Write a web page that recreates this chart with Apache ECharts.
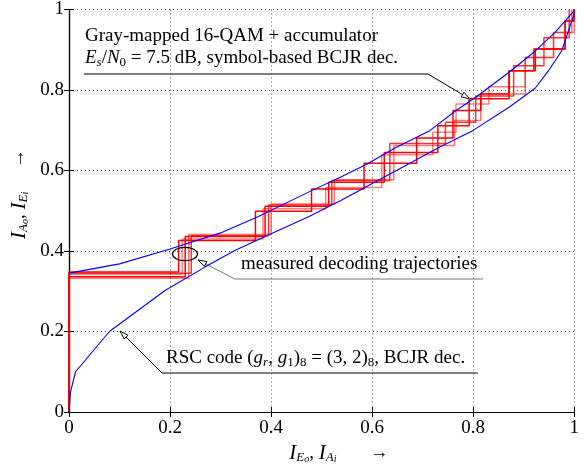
<!DOCTYPE html>
<html>
<head>
<meta charset="utf-8">
<script src="https://cdn.jsdelivr.net/npm/echarts@6/dist/echarts.min.js"></script>
<style>
  html, body { margin: 0; padding: 0; background: #fff; }
  #main { width: 582px; height: 470px; }
</style>
</head>
<body>
<div id="main"></div>
<script>
// inner demapper/accumulator curve (I_Eo -> I_Ei)
const upperX = [0, 0.1, 0.2, 0.3, 0.375, 0.48, 0.537, 0.59, 0.648, 0.714, 0.766, 0.805, 0.871, 0.923, 0.962, 1];
const upperY = [0.345, 0.368, 0.405, 0.445, 0.486, 0.55, 0.583, 0.616, 0.658, 0.699, 0.749, 0.782, 0.844, 0.897, 0.943, 0.997];
// RSC code curve, transposed
const lowerX = [0, 0.003, 0.013, 0.08, 0.19, 0.269, 0.328, 0.4, 0.472, 0.537, 0.648, 0.733, 0.799, 0.871, 0.923, 0.949, 0.975, 1];
const lowerY = [0, 0.05, 0.1, 0.2, 0.302, 0.36, 0.401, 0.443, 0.484, 0.525, 0.6, 0.658, 0.699, 0.757, 0.805, 0.848, 0.897, 0.99];
// measured trajectories: x after each horizontal step, y after each vertical step
const trajX = [
  [0.217, 0.369, 0.480, 0.584, 0.688, 0.760, 0.815, 0.871, 0.923, 0.982, 1.0],
  [0.224, 0.384, 0.508, 0.619, 0.720, 0.766, 0.831, 0.903, 0.959, 1.0],
  [0.230, 0.388, 0.514, 0.624, 0.730, 0.792, 0.871, 0.920, 0.982, 1.0],
  [0.237, 0.400, 0.525, 0.643, 0.763, 0.815, 0.903, 0.959, 0.995],
  [0.242, 0.395, 0.520, 0.635, 0.745, 0.805, 0.880, 0.940, 0.990]
];
const trajY = [
  [0.348, 0.426, 0.499, 0.554, 0.618, 0.681, 0.749, 0.790, 0.848, 0.902, 0.972, 1.0],
  [0.342, 0.430, 0.505, 0.558, 0.639, 0.695, 0.765, 0.808, 0.881, 0.943, 1.0],
  [0.336, 0.436, 0.511, 0.571, 0.645, 0.711, 0.778, 0.848, 0.902, 0.972, 1.0],
  [0.332, 0.441, 0.517, 0.577, 0.662, 0.724, 0.790, 0.881, 0.943, 1.0],
  [0.345, 0.438, 0.514, 0.575, 0.667, 0.720, 0.785, 0.860, 0.930, 1.0]
];

const serif = '"Liberation Serif", "DejaVu Serif", serif';
const trajColors = ['rgba(255,0,0,1)', 'rgba(255,0,0,0.5)', 'rgba(255,0,0,1)', 'rgba(255,0,0,0.55)', 'rgba(255,0,0,0.8)'];

function zip(xs, ys) { return xs.map((x, i) => [x, ys[i]]); }

function stairs(xs, ys) {
  let x = 0;
  const pts = [[0, 0]];
  for (let i = 0; i < ys.length; i++) {
    pts.push([x, ys[i]]);
    if (i < xs.length) { x = xs[i]; pts.push([x, ys[i]]); }
  }
  return pts;
}

const rich = {
  n: { fontFamily: serif, fontSize: 19, lineHeight: 22, fill: '#000' },
  i: { fontFamily: serif, fontSize: 19, lineHeight: 22, fontStyle: 'italic', fill: '#000' },
  I: { fontFamily: serif, fontSize: 21, lineHeight: 22, fontStyle: 'italic', fill: '#000' },
  s: { fontFamily: serif, fontSize: 13, lineHeight: 11, fontStyle: 'italic', verticalAlign: 'bottom', fill: '#000' },
  r: { fontFamily: serif, fontSize: 13, lineHeight: 11, verticalAlign: 'bottom', fill: '#000' },
  ss: { fontFamily: serif, fontSize: 10, lineHeight: 6, fontStyle: 'italic', verticalAlign: 'bottom', fill: '#000' }
};

function label(x, y, text, align, rot) {
  return {
    type: 'text', x: x, y: y, rotation: rot || 0, silent: true,
    style: { text: text, rich: rich, textAlign: align || 'left', textVerticalAlign: 'middle' }
  };
}

function line(points, color) {
  return { type: 'polyline', silent: true, shape: { points: points }, style: { stroke: color, lineWidth: 1, fill: null } };
}

function head(tip, from, color) {
  const a = Math.atan2(tip[1] - from[1], tip[0] - from[0]);
  const L = 9, w = 0.3;
  const p1 = [tip[0] - L * Math.cos(a - w), tip[1] - L * Math.sin(a - w)];
  const p2 = [tip[0] - L * Math.cos(a + w), tip[1] - L * Math.sin(a + w)];
  return { type: 'polygon', silent: true, shape: { points: [p1, tip, p2] }, style: { stroke: color, fill: '#fff', lineWidth: 1 } };
}

const axisCommon = {
  type: 'value', min: 0, max: 1, interval: 0.2,
  axisLine: { show: true, lineStyle: { color: '#000', width: 1.2 } },
  axisTick: { show: true, inside: true, length: 5, lineStyle: { color: '#000' } }
};

const series = [
  { type: 'line', data: zip(upperX, upperY), showSymbol: false, lineStyle: { color: '#0000ff', width: 1.1 }, z: 3 },
  { type: 'line', data: zip(lowerX, lowerY), showSymbol: false, lineStyle: { color: '#0000ff', width: 1.1 }, z: 3 }
];
trajX.forEach((xs, k) => {
  series.push({
    type: 'line', data: stairs(xs, trajY[k]), showSymbol: false,
    lineStyle: { color: trajColors[k], width: 1.5 }, z: 2
  });
});

const chart = echarts.init(document.getElementById('main'));
chart.setOption({
  animation: false,
  backgroundColor: '#fff',
  grid: { left: 69, right: 3, top: 8, bottom: 58 },
  xAxis: [
    Object.assign({}, axisCommon, {
      position: 'bottom',
      axisLabel: { color: '#000', fontFamily: serif, fontSize: 19, margin: 7 },
      splitLine: { show: true, lineStyle: { color: '#555', type: [1, 3], width: 1 } }
    }),
    Object.assign({}, axisCommon, { position: 'top', axisLabel: { show: false }, splitLine: { show: false } })
  ],
  yAxis: [
    Object.assign({}, axisCommon, {
      position: 'left',
      axisLabel: { color: '#000', fontFamily: serif, fontSize: 19, margin: 5 },
      splitLine: { show: true, lineStyle: { color: '#555', type: [1, 3], width: 1 } }
    }),
    Object.assign({}, axisCommon, { position: 'right', axisLabel: { show: false }, splitLine: { show: false } })
  ],
  series: series,
  graphic: [
    // annotation: inner curve
    label(85, 36, '{n|Gray-mapped 16-QAM + accumulator}'),
    label(85, 58, '{i|E}{s|s}{n|/}{i|N}{r|0}{n| = 7.5 dB, symbol-based BCJR dec.}'),
    line([[84, 74], [428, 74], [470, 99]], '#000'),
    head([470, 99], [428, 74], '#000'),
    // annotation: trajectories
    { type: 'ellipse', silent: true, shape: { cx: 185, cy: 254, rx: 12.5, ry: 6.7 }, style: { stroke: '#000', fill: null, lineWidth: 1.2 }, z: 10 },
    label(241, 264, '{n|measured decoding trajectories}'),
    line([[198, 260], [235, 279], [483, 279]], '#777'),
    head([198, 260], [235, 279], '#000'),
    // annotation: RSC curve
    label(166, 358, '{n|RSC code (}{i|g}{s|r}{n|, }{i|g}{r|1}{n|)}{r|8}{n| = (3, 2)}{r|8}{n|, BCJR dec.}'),
    line([[120, 331], [162, 373], [478, 373]], '#000'),
    head([120, 331], [162, 373], '#000'),
    // axis names
    label(339, 453, '{I|I}{s|E}{ss|o}{n|, }{I|I}{s|A}{ss|i}{n|       →}', 'center'),
    label(19, 194, '{I|I}{s|A}{ss|o}{n|, }{I|I}{s|E}{ss|i}{n|     →}', 'center', Math.PI / 2)
  ]
});
</script>
</body>
</html>
